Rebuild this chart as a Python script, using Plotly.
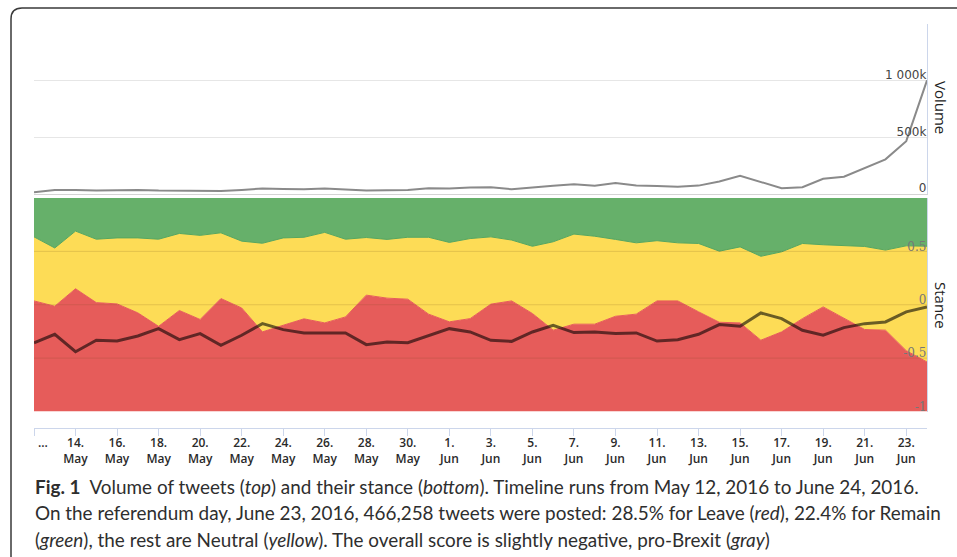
import pandas as pd
import plotly.graph_objects as go

# ---------------- data ----------------
dates = pd.date_range("2016-05-12", "2016-06-24").strftime("%Y-%m-%d").tolist()

# tweets per day (thousands)
volume_k = [15, 36, 36, 30, 33, 36, 30, 30, 30, 27, 36, 48, 45, 42, 48, 39, 30, 33, 36, 51, 48,
            57, 60, 42, 60, 72, 86, 72, 98, 76, 71, 65, 74, 110, 161, 104, 51, 60, 134, 152,
            229, 306, 466.258, 1003]

# share of Leave tweets (%)
leave_pct = [51.8, 49.3, 57.5, 51.0, 50.4, 46.2, 39.9, 47.3, 43.1, 52.9, 48.5, 37.3, 40.4, 43.4,
             41.5, 44.3, 54.5, 53.1, 52.6, 45.6, 42.0, 43.5, 50.3, 51.8, 45.9, 38.1, 40.9, 40.9,
             44.6, 45.6, 51.8, 51.8, 46.7, 41.8, 41.5, 33.4, 37.3, 43.5, 49.0, 43.5, 38.4, 38.1,
             28.5, 23.2]

# share of Remain tweets (%)
remain_pct = [18.2, 23.4, 15.5, 19.3, 18.7, 18.7, 19.3, 16.6, 17.5, 16.3, 20.2, 21.2, 18.7, 18.4,
              16.1, 19.3, 18.5, 19.4, 18.4, 18.4, 20.8, 19.0, 18.2, 19.7, 22.6, 20.5, 16.9, 17.9,
              19.4, 21.0, 20.0, 21.0, 21.3, 24.9, 22.9, 27.3, 25.2, 21.3, 21.9, 22.4, 22.7, 24.4,
              22.4, 22.6]

# overall stance score
score = [-0.358, -0.277, -0.44, -0.333, -0.34, -0.293, -0.224, -0.327, -0.27, -0.38, -0.286,
         -0.177, -0.233, -0.264, -0.264, -0.264, -0.374, -0.349, -0.355, -0.286, -0.224, -0.255,
         -0.333, -0.343, -0.255, -0.192, -0.261, -0.255, -0.27, -0.264, -0.34, -0.327, -0.277,
         -0.186, -0.202, -0.077, -0.13, -0.239, -0.286, -0.214, -0.177, -0.161, -0.067, -0.02]

tick_dates = dates[0::2]
tick_labels = ["\u2003\u2002…", "14.<br>May", "16.<br>May", "18.<br>May", "20.<br>May",
               "22.<br>May", "24.<br>May", "26.<br>May", "28.<br>May", "30.<br>May",
               "1.<br>Jun", "3.<br>Jun", "5.<br>Jun", "7.<br>Jun", "9.<br>Jun", "11.<br>Jun",
               "13.<br>Jun", "15.<br>Jun", "17.<br>Jun", "19.<br>Jun", "21.<br>Jun", "23.<br>Jun"]

vol_ticks = [0, 500000, 1000000, 1500000]
vol_ticktext = ["0", "500k", "1 000k", ""]
stance_ticks = [-1, -0.5, 0, 0.5]
stance_ticktext = ["-1", "-0.5", "0", "0.5"]

# ---------------- derived ----------------
n = len(dates)
volume = [v * 1000 for v in volume_k]
red_top = [-1 + 2 * p / 100 for p in leave_pct]
green_bottom = [1 - 2 * p / 100 for p in remain_pct]
floor = [-1] * n
ceiling = [1] * n

W, H = 957, 557
def px(x):
    return x / W
def py(y):
    return 1 - y / H

RED = "#e65c5a"
YELLOW = "#fddc56"
GREEN = "#66b06a"

fig = go.Figure()
fig.add_trace(go.Scatter(x=dates, y=volume, mode="lines",
                         line=dict(color="#8a8a8a", width=2), xaxis="x", yaxis="y"))

fig.add_trace(go.Scatter(x=dates, y=floor, mode="lines", line=dict(width=0),
                         xaxis="x2", yaxis="y2", hoverinfo="skip"))
fig.add_trace(go.Scatter(x=dates, y=red_top, mode="lines", fill="tonexty", fillcolor=RED,
                         line=dict(color=RED, width=1), xaxis="x2", yaxis="y2"))
fig.add_trace(go.Scatter(x=dates, y=green_bottom, mode="lines", fill="tonexty", fillcolor=YELLOW,
                         line=dict(color="#58a65c", width=1), xaxis="x2", yaxis="y2"))
fig.add_trace(go.Scatter(x=dates, y=ceiling, mode="lines", fill="tonexty", fillcolor=GREEN,
                         line=dict(width=0), xaxis="x2", yaxis="y2", hoverinfo="skip"))
fig.add_trace(go.Scatter(x=dates, y=score, mode="lines",
                         line=dict(color="rgba(0,0,0,0.58)", width=3), xaxis="x2", yaxis="y2"))

xdom = [px(34), px(927)]
fig.update_layout(
    template="none",
    width=W, height=H, margin=dict(l=0, r=0, t=0, b=0, autoexpand=False),
    paper_bgcolor="white", plot_bgcolor="white", showlegend=False,
    font=dict(family="Open Sans", color="#333"),
    xaxis=dict(domain=xdom, anchor="y", type="date", range=[dates[0], dates[-1]],
               showticklabels=False, showgrid=False, zeroline=False, automargin=False,
               showline=True, linecolor="#d4d4d4", linewidth=1, ticks=""),
    yaxis=dict(domain=[py(194), py(24)], anchor="x", side="right", range=[0, 1500000],
               tickvals=vol_ticks, ticktext=vol_ticktext, ticklabelposition="inside",
               ticklabeloverflow="allow", automargin=False,
               ticks="", showgrid=True, gridcolor="#e6e6e6", gridwidth=1, zeroline=False,
               showline=True, linecolor="#ccd6eb", ticklabelshift=-6,
               tickfont=dict(family="DejaVu Sans", size=12, color="#444")),
    xaxis2=dict(domain=xdom, anchor="free", position=py(428), type="date",
                range=[dates[0], dates[-1]], tickvals=tick_dates, ticktext=tick_labels,
                ticklabeloverflow="allow", automargin=False, ticklabelstandoff=-3,
                ticks="outside", ticklen=7, tickcolor="#ccd6eb", showline=True,
                linecolor="#ccd6eb", showgrid=False, zeroline=False,
                tickfont=dict(family="Open Sans", size=12, color="#2a2a2a", weight=600)),
    yaxis2=dict(domain=[py(411.5), py(198)], anchor="x2", side="right", range=[-1, 1],
                tickvals=stance_ticks, ticktext=stance_ticktext, ticklabelposition="inside",
                ticklabeloverflow="allow", automargin=False,
                ticks="", showgrid=False, zeroline=False, showline=True, linecolor="#ccd6eb",
                ticklabelshift=-5,
                tickfont=dict(family="DejaVu Serif", size=12, color="#777")),
)

# faint grid lines drawn over the stance areas
for v in [0.5, 0, -0.5]:
    fig.add_shape(type="line", xref="x2 domain", yref="y2", x0=0, x1=1, y0=v, y1=v,
                  line=dict(color="rgba(110,80,30,0.18)", width=1), layer="above")

# rounded frame
frame = (f"M {px(11)},{py(575)} L {px(11)},{py(19)} Q {px(11)},{py(8)} {px(22)},{py(8)} "
         f"L {px(975)},{py(8)}")
fig.add_shape(type="path", xref="paper", yref="paper", path=frame,
              line=dict(color="#3a3a3a", width=1.5), layer="above")

# axis titles
fig.add_annotation(x=px(941), y=py(107), xref="paper", yref="paper", text="Volume",
                   xanchor="center", yanchor="middle",
                   textangle=90, showarrow=False, font=dict(family="Open Sans", size=15, color="#222"))
fig.add_annotation(x=px(941), y=py(305), xref="paper", yref="paper", text="Stance",
                   xanchor="center", yanchor="middle",
                   textangle=90, showarrow=False, font=dict(family="Open Sans", size=15, color="#222"))

# caption
cap = [
    "<b>Fig. 1</b>  Volume of tweets (<i>top</i>) and their stance (<i>bottom</i>). "
    "Timeline runs from May 12, 2016 to June 24, 2016.",
    "On the referendum day, June 23, 2016, 466,258 tweets were posted: 28.5% for Leave "
    "(<i>red</i>), 22.4% for Remain",
    "(<i>green</i>), the rest are Neutral (<i>yellow</i>). The overall score is slightly "
    "negative, pro-Brexit (<i>gray</i>)",
]
for i, line in enumerate(cap):
    fig.add_annotation(x=px(33), y=py(486 + 26.5 * i), xref="paper", yref="paper", text=line,
                       xanchor="left", yanchor="middle", showarrow=False, align="left",
                       font=dict(family="Lato", size=18.9, color="#2e2e2e"))

fig.write_html("out.html", config={"displayModeBar": False},
               post_script="document.body.style.margin='0px';")
